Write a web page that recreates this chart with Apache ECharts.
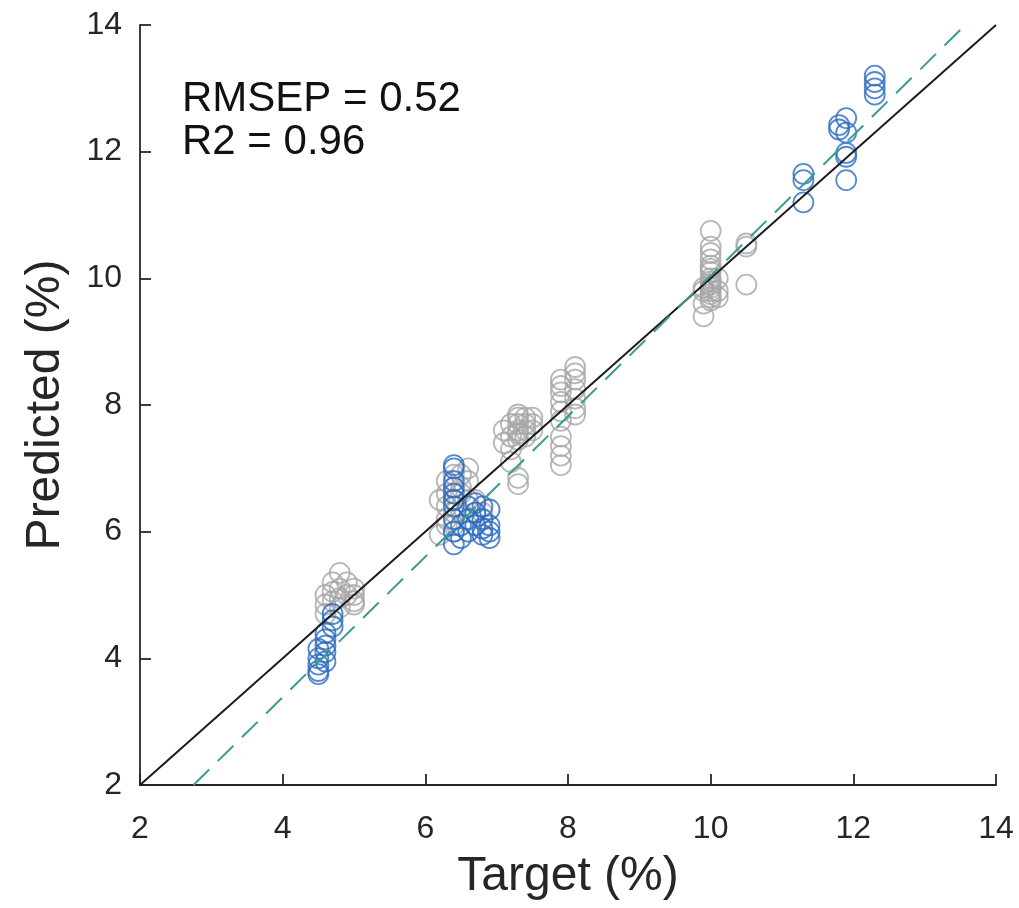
<!DOCTYPE html>
<html>
<head>
<meta charset="utf-8">
<script src="https://cdn.jsdelivr.net/npm/echarts@6/dist/echarts.min.js"></script>
<style>
  html, body { margin: 0; padding: 0; background: #fff; }
  #chart { width: 1019px; height: 908px; }
</style>
</head>
<body>
<div id="chart"></div>
<script>
// calibration samples (grey)
var greyX = [
  4.6, 4.6, 4.6, 4.7, 4.7, 4.7, 4.8, 4.8, 4.8, 4.8, 4.9, 4.9, 5.0, 5.0, 5.0, 5.0,
  6.2, 6.2, 6.3, 6.3, 6.3, 6.3, 6.3, 6.4, 6.4, 6.4, 6.4, 6.4, 6.4,
  6.5, 6.5, 6.5, 6.5, 6.6, 6.6, 6.6, 6.7, 6.7, 6.8,
  7.1, 7.1, 7.2, 7.2, 7.2, 7.2, 7.3, 7.3, 7.3, 7.3, 7.3, 7.3, 7.3, 7.3,
  7.4, 7.4, 7.4, 7.4, 7.5, 7.5, 7.5,
  7.9, 7.9, 7.9, 7.9, 7.9, 7.9, 7.9, 7.9, 7.9, 7.9,
  8.1, 8.1, 8.1, 8.1, 8.1, 8.1, 8.1,
  9.9, 9.9, 9.9, 9.9,
  10.0, 10.0, 10.0, 10.0, 10.0, 10.0, 10.0, 10.0, 10.0, 10.0, 10.0, 10.0, 10.0, 10.0, 10.0,
  10.1, 10.1, 10.1,
  10.5, 10.5, 10.5
];
var greyY = [
  5.0, 4.85, 4.7, 5.2, 5.05, 4.9, 5.35, 5.1, 4.95, 4.8, 5.2, 5.0, 5.1, 5.0, 4.9, 4.85,
  6.5, 5.95, 6.8, 6.6, 6.4, 6.2, 6.1, 6.9, 6.7, 6.5, 6.3, 6.1, 6.0,
  6.9, 6.7, 6.6, 6.3, 7.0, 6.8, 6.5, 6.5, 6.3, 6.3,
  7.6, 7.4, 7.7, 7.5, 7.3, 7.1, 7.85, 7.8, 7.7, 7.6, 7.55, 7.45, 6.85, 6.75,
  7.8, 7.7, 7.6, 7.5, 7.8, 7.7, 7.6,
  8.4, 8.3, 8.2, 8.05, 7.9, 7.75, 7.5, 7.35, 7.2, 7.05,
  8.6, 8.5, 8.4, 8.25, 8.1, 7.95, 7.85,
  9.85, 9.8, 9.6, 9.4,
  10.75, 10.5, 10.4, 10.3, 10.2, 10.15, 10.1, 10.0, 9.95, 9.9, 9.85, 9.8, 9.75, 9.7, 9.65,
  10.0, 9.8, 9.7,
  10.55, 10.5, 9.9
];
// validation samples (blue)
var blueX = [
  4.5, 4.5, 4.5, 4.5, 4.5, 4.6, 4.6, 4.6, 4.6, 4.6, 4.7, 4.7, 4.7,
  6.4, 6.4, 6.4, 6.4, 6.4, 6.4, 6.4, 6.4, 6.4, 6.4,
  6.5, 6.5, 6.6, 6.6, 6.6, 6.7, 6.7, 6.7, 6.8, 6.8, 6.8, 6.8, 6.9, 6.9, 6.9, 6.9,
  11.3, 11.3, 11.3,
  11.8, 11.8, 11.9, 11.9, 11.9, 11.9, 11.9,
  12.3, 12.3, 12.3, 12.3
];
var blueY = [
  4.15, 4.0, 3.9, 3.8, 3.75, 4.4, 4.3, 4.2, 4.1, 3.95, 4.7, 4.6, 4.5,
  7.05, 7.0, 6.8, 6.7, 6.6, 6.5, 6.4, 6.2, 6.0, 5.8,
  6.1, 5.9, 6.4, 6.2, 6.0, 6.45, 6.3, 6.1, 6.4, 6.2, 6.05, 5.95, 6.35, 6.1, 6.0, 5.9,
  11.65, 11.55, 11.2,
  12.42, 12.35, 12.53, 12.3, 11.98, 11.92, 11.55,
  13.2, 13.1, 13.0, 12.9
];
// reference lines
var idealX = [2, 14];
var idealY = [2, 14];
var fitX = [2.75, 13.57];
var fitY = [2, 14];
var statLines = ['RMSEP = 0.52', 'R2 = 0.96'];

function pairs(xs, ys) {
  var out = [];
  for (var i = 0; i < xs.length; i++) out.push([xs[i], ys[i]]);
  return out;
}

var chart = echarts.init(document.getElementById('chart'), null, { renderer: 'canvas' });
var axisColor = '#262626';
var font = 'Liberation Sans, Arial, Helvetica, sans-serif';

chart.setOption({
  animation: false,
  backgroundColor: '#ffffff',
  grid: { left: 140, right: 23, top: 25, bottom: 123, outerBoundsMode: 'none' },
  xAxis: {
    type: 'value', min: 2, max: 14, interval: 2,
    name: 'Target (%)', nameLocation: 'middle', nameGap: 68,
    nameTextStyle: { fontSize: 48, color: axisColor, fontFamily: font },
    axisLine: { show: true, lineStyle: { color: axisColor, width: 1.8 } },
    axisTick: { show: true, inside: true, length: 11, lineStyle: { color: axisColor, width: 1.8 } },
    axisLabel: { fontSize: 32, color: axisColor, margin: 28, fontFamily: font },
    splitLine: { show: false }
  },
  yAxis: {
    type: 'value', min: 2, max: 14, interval: 2,
    name: 'Predicted (%)', nameLocation: 'middle', nameGap: 70, nameRotate: 90,
    nameTextStyle: { fontSize: 48, color: axisColor, fontFamily: font },
    axisLine: { show: true, lineStyle: { color: axisColor, width: 1.8 } },
    axisTick: { show: true, inside: true, length: 11, lineStyle: { color: axisColor, width: 1.8 } },
    axisLabel: { fontSize: 32, color: axisColor, margin: 18, fontFamily: font },
    splitLine: { show: false }
  },
  graphic: [
    {
      type: 'text', left: 182, top: 78, z: 100,
      style: { text: statLines.join('\n'), fill: '#111', font: '42px ' + font, lineHeight: 43 }
    }
  ],
  series: [
    {
      name: 'Calibration', type: 'scatter', symbol: 'circle', symbolSize: 20,
      data: pairs(greyX, greyY),
      itemStyle: { color: 'rgba(0,0,0,0)', borderColor: '#a6a6a6', borderWidth: 1.8 },
      z: 2
    },
    {
      name: 'Validation', type: 'scatter', symbol: 'circle', symbolSize: 20,
      data: pairs(blueX, blueY),
      itemStyle: { color: 'rgba(0,0,0,0)', borderColor: '#2b6cbf', borderWidth: 1.8 },
      z: 3
    },
    {
      name: 'Ideal', type: 'line', symbol: 'none', data: pairs(idealX, idealY),
      lineStyle: { color: '#1c1c1c', width: 2 }, z: 4
    },
    {
      name: 'Fit', type: 'line', symbol: 'none', data: pairs(fitX, fitY),
      lineStyle: { color: '#3a9a94', width: 2, type: [22, 12] }, z: 4
    }
  ]
});
</script>
</body>
</html>
